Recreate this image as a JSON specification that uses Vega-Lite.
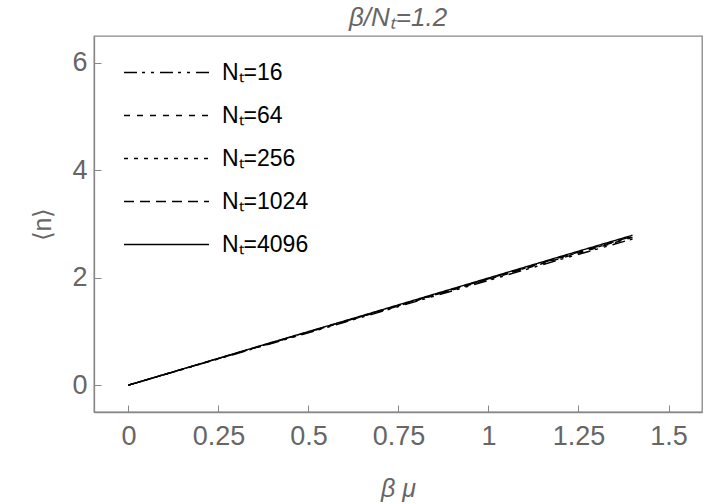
{
  "$schema": "https://vega.github.io/schema/vega-lite/v6.json",
  "autosize": {"type": "none"},
  "padding": {"left": 94, "top": 36, "right": 4, "bottom": 92},
  "width": 608,
  "height": 376,
  "background": "white",
  "title": {"text": "β/Nₜ=1.2", "font": "Liberation Sans", "fontSize": 26, "fontWeight": "normal", "fontStyle": "italic", "color": "#666666", "offset": 5},
  "config": {
    "view": {"stroke": "#888888", "strokeWidth": 1.3},
    "axis": {"grid": false, "domainColor": "#888888", "tickColor": "#888888", "labelColor": "#666666", "titleColor": "#666666", "labelFont": "Liberation Sans", "titleFont": "Liberation Sans", "labelFontSize": 27, "titleFontSize": 25, "titleFontWeight": "normal", "tickSize": -7, "domainWidth": 1.3, "tickWidth": 1}
  },
  "data": {"values": [
    {"Nt": "Nₜ=16", "x": 0, "y": 0}, {"Nt": "Nₜ=16", "x": 0.2, "y": 0.39}, {"Nt": "Nₜ=16", "x": 0.4, "y": 0.78}, {"Nt": "Nₜ=16", "x": 0.6, "y": 1.17}, {"Nt": "Nₜ=16", "x": 0.8, "y": 1.56}, {"Nt": "Nₜ=16", "x": 1.0, "y": 1.95}, {"Nt": "Nₜ=16", "x": 1.2, "y": 2.34}, {"Nt": "Nₜ=16", "x": 1.4, "y": 2.72},
    {"Nt": "Nₜ=64", "x": 0, "y": 0}, {"Nt": "Nₜ=64", "x": 0.2, "y": 0.395}, {"Nt": "Nₜ=64", "x": 0.4, "y": 0.79}, {"Nt": "Nₜ=64", "x": 0.6, "y": 1.18}, {"Nt": "Nₜ=64", "x": 0.8, "y": 1.575}, {"Nt": "Nₜ=64", "x": 1.0, "y": 1.97}, {"Nt": "Nₜ=64", "x": 1.2, "y": 2.36}, {"Nt": "Nₜ=64", "x": 1.4, "y": 2.75},
    {"Nt": "Nₜ=256", "x": 0, "y": 0}, {"Nt": "Nₜ=256", "x": 0.2, "y": 0.397}, {"Nt": "Nₜ=256", "x": 0.4, "y": 0.792}, {"Nt": "Nₜ=256", "x": 0.6, "y": 1.185}, {"Nt": "Nₜ=256", "x": 0.8, "y": 1.58}, {"Nt": "Nₜ=256", "x": 1.0, "y": 1.975}, {"Nt": "Nₜ=256", "x": 1.2, "y": 2.37}, {"Nt": "Nₜ=256", "x": 1.4, "y": 2.76},
    {"Nt": "Nₜ=1024", "x": 0, "y": 0}, {"Nt": "Nₜ=1024", "x": 0.2, "y": 0.398}, {"Nt": "Nₜ=1024", "x": 0.4, "y": 0.795}, {"Nt": "Nₜ=1024", "x": 0.6, "y": 1.19}, {"Nt": "Nₜ=1024", "x": 0.8, "y": 1.585}, {"Nt": "Nₜ=1024", "x": 1.0, "y": 1.98}, {"Nt": "Nₜ=1024", "x": 1.2, "y": 2.38}, {"Nt": "Nₜ=1024", "x": 1.4, "y": 2.77},
    {"Nt": "Nₜ=4096", "x": 0, "y": 0}, {"Nt": "Nₜ=4096", "x": 0.2, "y": 0.4}, {"Nt": "Nₜ=4096", "x": 0.4, "y": 0.8}, {"Nt": "Nₜ=4096", "x": 0.6, "y": 1.195}, {"Nt": "Nₜ=4096", "x": 0.8, "y": 1.595}, {"Nt": "Nₜ=4096", "x": 1.0, "y": 1.995}, {"Nt": "Nₜ=4096", "x": 1.2, "y": 2.395}, {"Nt": "Nₜ=4096", "x": 1.4, "y": 2.79}
  ]},
  "mark": {"type": "line", "color": "black", "strokeWidth": 1.4, "clip": true},
  "encoding": {
    "x": {"field": "x", "type": "quantitative", "title": "β μ",
      "scale": {"domain": [-0.0956, 1.593], "nice": false, "zero": false},
      "axis": {"values": [0, 0.25, 0.5, 0.75, 1, 1.25, 1.5], "labelExpr": "datum.value == 0 ? '0' : datum.value == 1 ? '1' : format(datum.value, '.3~')", "labelPadding": 18, "titleFontStyle": "italic", "titlePadding": 27}},
    "y": {"field": "y", "type": "quantitative", "title": "⟨n⟩",
      "scale": {"domain": [-0.5, 6.5], "nice": false, "zero": false},
      "axis": {"values": [0, 2, 4, 6], "labelPadding": 14, "titlePadding": 16}},
    "strokeDash": {"field": "Nt", "type": "nominal",
      "scale": {"domain": ["Nₜ=16", "Nₜ=64", "Nₜ=256", "Nₜ=1024", "Nₜ=4096"], "range": [[13, 5, 3, 6, 3, 6], [6, 7], [4, 6], [10, 6], [1, 0]]},
      "legend": {"title": null, "orient": "none", "legendX": 29, "legendY": 15, "symbolType": "stroke", "symbolSize": 7225, "symbolStrokeColor": "black", "symbolStrokeWidth": 1.3, "labelFont": "Liberation Sans", "labelFontSize": 23, "labelColor": "black", "rowPadding": 0, "clipHeight": 43, "labelOffset": 12}}
  }
}
